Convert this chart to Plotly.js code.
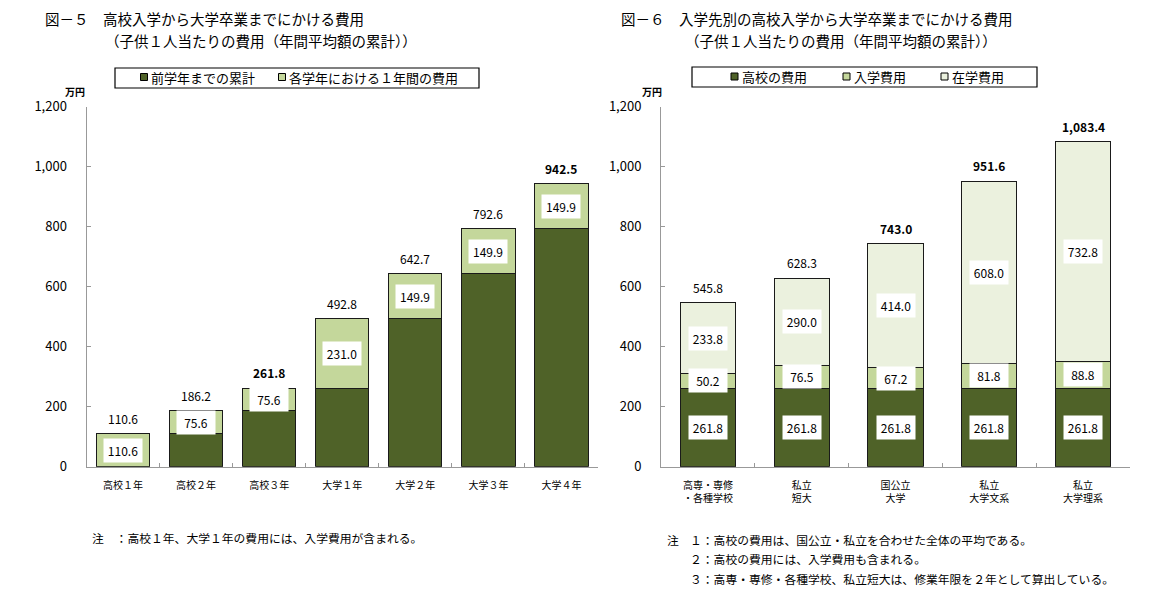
<!DOCTYPE html>
<html>
<head>
<meta charset="utf-8">
<script src="https://cdn.plot.ly/plotly-3.0.1.min.js"></script>
<style>html,body{margin:0;padding:0;background:#fff;}#chart{width:1159px;height:603px;}</style>
</head>
<body>
<div id="chart"></div>
<script>
// ---- Data: 図－５ ----
const catsL = ['高校１年','高校２年','高校３年','大学１年','大学２年','大学３年','大学４年'];
const prevCumL = [0, 110.6, 186.2, 261.8, 492.8, 642.7, 792.6];   // 前学年までの累計
const yearCostL = [110.6, 75.6, 75.6, 231.0, 149.9, 149.9, 149.9]; // 各学年における１年間の費用
const totalL = [110.6, 186.2, 261.8, 492.8, 642.7, 792.6, 942.5];
const boldL = [false, false, true, false, false, false, true];

// ---- Data: 図－６ ----
const catsR = ['高専・専修<br>・各種学校','私立<br>短大','国公立<br>大学','私立<br>大学文系','私立<br>大学理系'];
const hsCostR = [261.8, 261.8, 261.8, 261.8, 261.8];   // 高校の費用
const entryCostR = [50.2, 76.5, 67.2, 81.8, 88.8];     // 入学費用
const studyCostR = [233.8, 290.0, 414.0, 608.0, 732.8];// 在学費用
const totalR = [545.8, 628.3, 743.0, 951.6, 1083.4];
const boldR = [false, false, true, true, true];

const yTicks = [0, 200, 400, 600, 800, 1000, 1200];

// ---- Styling ----
const W = 1159, H = 603;
const FONT = '"Noto Sans CJK JP", "Noto Sans", sans-serif';
const C_DARK = '#4f6228', C_MID = '#c4d79b', C_LIGHT = '#ebf1de';
const px = v => v / W;
const py = v => 1 - v / H;
const fmt = v => v.toLocaleString('en-US', {minimumFractionDigits: 1, maximumFractionDigits: 1});

const line = {color: '#1a1a1a', width: 1};
const traces = [
  {type: 'bar', name: '前学年までの累計', x: catsL, y: prevCumL, xaxis: 'x', yaxis: 'y',
   width: 0.73, marker: {color: C_DARK, line: line}, textposition: 'none', hoverinfo: 'skip'},
  {type: 'bar', name: '各学年における１年間の費用', x: catsL, y: yearCostL, xaxis: 'x', yaxis: 'y',
   width: 0.73, marker: {color: C_MID, line: line}, textposition: 'none', hoverinfo: 'skip'},
  {type: 'bar', name: '高校の費用', x: catsR, y: hsCostR, xaxis: 'x2', yaxis: 'y2',
   width: 0.59, marker: {color: C_DARK, line: line}, textposition: 'none', hoverinfo: 'skip'},
  {type: 'bar', name: '入学費用', x: catsR, y: entryCostR, xaxis: 'x2', yaxis: 'y2',
   width: 0.59, marker: {color: C_MID, line: line}, textposition: 'none', hoverinfo: 'skip'},
  {type: 'bar', name: '在学費用', x: catsR, y: studyCostR, xaxis: 'x2', yaxis: 'y2',
   width: 0.59, marker: {color: C_LIGHT, line: line}, textposition: 'none', hoverinfo: 'skip'}
];

const ann = [];
const shapes = [];
function txt(x, y, text, size, opts) {
  ann.push(Object.assign({xref: 'paper', yref: 'paper', x: px(x), y: py(y), text: text,
    showarrow: false, xanchor: 'left', yanchor: 'middle',
    font: {family: FONT, size: size, color: '#000'}}, opts || {}));
}
function boxLabel(xref, yref, i, y, val) {
  ann.push({xref: xref, yref: yref, x: i, y: y, text: fmt(val), showarrow: false,
    bgcolor: '#ffffff', borderpad: 3, width: 32, xanchor: 'center', yanchor: 'middle',
    font: {family: FONT, size: 12, color: '#000'}});
}
function totalLabel(xref, yref, i, y, val, bold) {
  ann.push({xref: xref, yref: yref, x: i, y: y, text: bold ? '<b>' + fmt(val) + '</b>' : fmt(val),
    showarrow: false, xanchor: 'center', yanchor: 'bottom', yshift: 5,
    font: {family: FONT, size: 12, color: '#000'}});
}

// Titles
txt(43, 19, '図－５　高校入学から大学卒業までにかける費用', 14.5);
txt(103, 40, '（子供１人当たりの費用（年間平均額の累計））', 14.5);
txt(619, 19, '図－６　入学先別の高校入学から大学卒業までにかける費用', 14.5);
txt(683, 40, '（子供１人当たりの費用（年間平均額の累計））', 14.5);

// Unit labels
txt(75, 92, '<b>万円</b>', 10, {xanchor: 'center'});
txt(652, 92, '<b>万円</b>', 10, {xanchor: 'center'});

// Legend boxes
function rect(x0, y0, x1, y1, fill, lw) {
  shapes.push({type: 'rect', xref: 'paper', yref: 'paper', x0: px(x0), x1: px(x1), y0: py(y1), y1: py(y0),
    line: {color: '#000', width: lw}, fillcolor: fill});
}
rect(115, 68, 479, 88, 'rgba(0,0,0,0)', 1.2);
rect(140.5, 73.5, 147.5, 80.5, C_DARK, 1);
txt(149, 77.5, '前学年までの累計', 13);
rect(278.5, 73.5, 285.5, 80.5, C_MID, 1);
txt(287, 77.5, '各学年における１年間の費用', 13);

rect(692, 67, 1037, 87, 'rgba(0,0,0,0)', 1.2);
rect(731, 73, 738, 80, C_DARK, 1);
txt(739.5, 77, '高校の費用', 13);
rect(843, 73, 850, 80, C_MID, 1);
txt(851.5, 77, '入学費用', 13);
rect(941, 73, 948, 80, C_LIGHT, 1);
txt(949.5, 77, '在学費用', 13);

// Data labels – left
catsL.forEach((c, i) => {
  boxLabel('x', 'y', i, prevCumL[i] + yearCostL[i] / 2, yearCostL[i]);
  totalLabel('x', 'y', i, totalL[i], totalL[i], boldL[i]);
});
// Data labels – right
catsR.forEach((c, i) => {
  boxLabel('x2', 'y2', i, hsCostR[i] / 2, hsCostR[i]);
  boxLabel('x2', 'y2', i, hsCostR[i] + entryCostR[i] / 2, entryCostR[i]);
  boxLabel('x2', 'y2', i, hsCostR[i] + entryCostR[i] + studyCostR[i] / 2, studyCostR[i]);
  totalLabel('x2', 'y2', i, totalR[i], totalR[i], boldR[i]);
});

// Notes
txt(90, 537, '注　：高校１年、大学１年の費用には、入学費用が含まれる。', 11.8);
txt(665, 539, '注', 11.8);
txt(688, 539, '１：高校の費用は、国公立・私立を合わせた全体の平均である。', 11.8);
txt(688, 558, '２：高校の費用には、入学費用も含まれる。', 11.8);
txt(688, 578, '３：高専・専修・各種学校、私立短大は、修業年限を２年として算出している。', 11.8);

const xBase = {type: 'category', showline: true, linecolor: '#999', linewidth: 1,
  ticks: 'inside', tickson: 'boundaries', ticklen: 4, tickcolor: '#999',
  showgrid: false, zeroline: false, fixedrange: true, ticklabelstandoff: 9,
  tickfont: {family: FONT, size: 10, color: '#000'}};
const yBase = {range: [0, 1200], tickvals: yTicks, tickformat: ',', showline: true,
  linecolor: '#999', linewidth: 1, ticks: 'inside', ticklen: 4, tickcolor: '#999',
  showgrid: false, zeroline: false, fixedrange: true, ticklabelstandoff: 16,
  tickfont: {family: FONT, size: 13, color: '#000'}};
const yDom = [py(466.7), py(106.7)];

const layout = {
  width: W, height: H, margin: {l: 0, r: 0, t: 0, b: 0},
  paper_bgcolor: '#fff', plot_bgcolor: 'rgba(0,0,0,0)',
  barmode: 'stack', showlegend: false, font: {family: FONT},
  xaxis: Object.assign({}, xBase, {domain: [px(86.5), px(598)], anchor: 'y'}),
  yaxis: Object.assign({}, yBase, {domain: yDom, anchor: 'x'}),
  xaxis2: Object.assign({}, xBase, {domain: [px(661), px(1130)], anchor: 'y2'}),
  yaxis2: Object.assign({}, yBase, {domain: yDom, anchor: 'x2'}),
  annotations: ann, shapes: shapes
};

Plotly.newPlot('chart', traces, layout, {staticPlot: true, displayModeBar: false});
</script>
</body>
</html>
